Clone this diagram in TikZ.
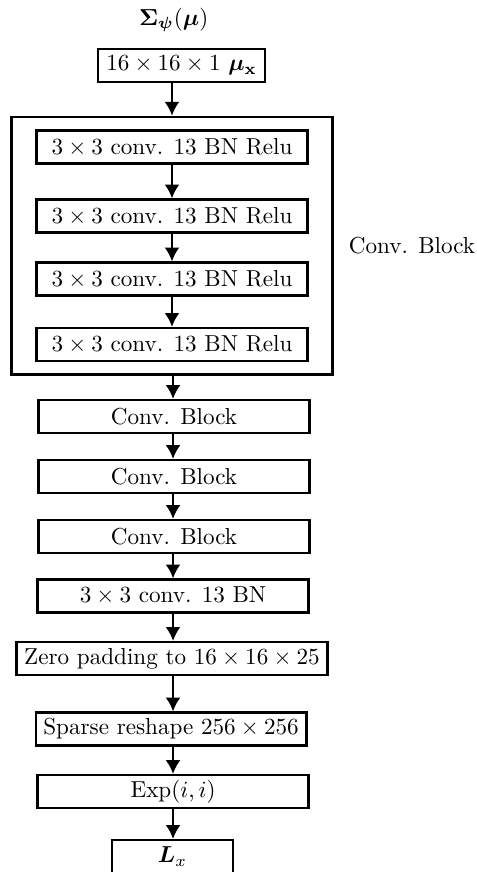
\documentclass[tikz,border=0pt]{standalone}
\usepackage{bm}
\usetikzlibrary{arrows.meta,positioning,fit}
\tikzset{netflow/.style={line width=1pt,-{Latex[length=6pt,width=6.5pt]}},
  netlayer/.style={draw,line width=1pt,minimum width=4.12cm,minimum height=0.5cm,inner ysep=1.5pt}}

\begin{document}
\begin{tikzpicture}[netflow]
\useasboundingbox (0,0) rectangle (7.235,-13.254);
\node (title) at (2.64,-0.30) {$\bm{\Sigma}_{\bm{\psi}}(\bm{\mu})$};
\node (in) [netlayer,minimum width=2.54cm] at (2.76,-1.00) {$16\times16\times1~\bm{\mu}_{\mathbf{x}}$};
\node (c1) [netlayer] at (2.614,-2.234) {$3\times3$ conv. 13 BN Relu};
\node (c2) [netlayer] at (2.614,-3.283) {$3\times3$ conv. 13 BN Relu};
\node (c3) [netlayer] at (2.614,-4.241) {$3\times3$ conv. 13 BN Relu};
\node (c4) [netlayer] at (2.614,-5.236) {$3\times3$ conv. 13 BN Relu};
\node (blk) [draw,fit=(c1)(c4),inner xsep=0.36cm,inner ysep=0.19cm] {};
\node (blklabel) [right=0.1cm of blk] {Conv. Block};
\node (b1) [netlayer] at (2.645,-6.331) {Conv. Block};
\node (b2) [netlayer] at (2.645,-7.243) {Conv. Block};
\node (b3) [netlayer] at (2.645,-8.155) {Conv. Block};
\node (bn) [netlayer] at (2.63,-9.059) {$3\times3$ conv. 13 BN};
\node (zero) [netlayer] at (2.614,-10.009) {Zero padding to $16\times16\times25$};
\node (sparse) [netlayer,minimum width=0cm] at (2.60,-11.081) {Sparse reshape $256\times256$};
\node (exp) [netlayer] at (2.63,-12.031) {$\mathrm{Exp}(i,i)$};
\node (out) [netlayer,minimum width=1.84cm] at (2.62,-13.019) {$\bm{L}_x$};
\draw (in.south -| c1) -- (c1 |- blk.north);
\draw (c1) -- (c2);
\draw (c2) -- (c3);
\draw (c3) -- (c4);
\draw (blk.south -| bn) -- (b1.north -| bn);
\draw (b1.south -| bn) -- (b2.north -| bn);
\draw (b2.south -| bn) -- (b3.north -| bn);
\draw (b3.south -| bn) -- (bn);
\draw (bn) -- (zero.north -| bn);
\draw (zero.south -| bn) -- (sparse.north -| bn);
\draw (sparse.south -| bn) -- (exp);
\draw (exp) -- (out.north -| bn);
\end{tikzpicture}
\end{document}
